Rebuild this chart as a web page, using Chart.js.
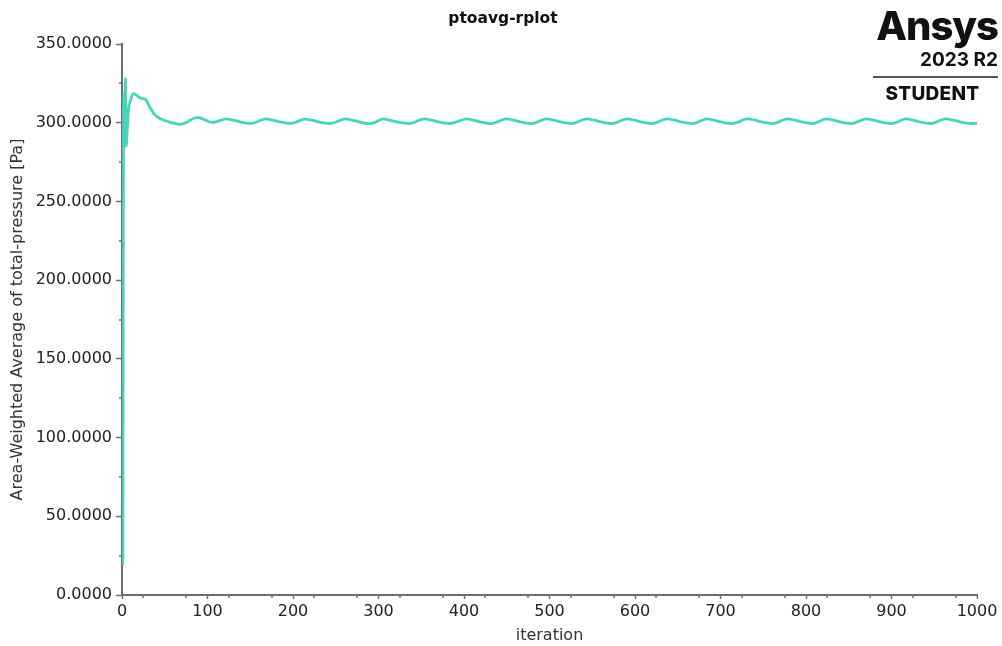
<!DOCTYPE html>
<html>
<head>
<meta charset="utf-8">
<script src="https://cdn.jsdelivr.net/npm/chart.js@4/dist/chart.umd.min.js"></script>
<style>
  body { margin: 0; background: #fff; }
  #wrap { position: relative; width: 1002px; height: 646px; }
  #logo { position: absolute; right: 4px; top: 6px; width: 125px; font-family: Inter, "Liberation Sans", sans-serif; color: #111; text-align: right; }
  #logo .brand { font-size: 40px; font-weight: 800; line-height: 40px; letter-spacing: -1px; }
  #logo .ver { font-size: 19px; font-weight: 700; line-height: 22px; margin-top: 3px; }
  #logo .rule { height: 2px; background: #555; margin: 5px 0 6px 0; }
  #logo .ed { font-size: 19px; font-weight: 800; text-align: center; line-height: 20px; letter-spacing: 0.3px; padding-right: 6px; }
</style>
</head>
<body>
<div id="wrap">
  <canvas id="plot" width="1002" height="646"></canvas>
  <div id="logo">
    <div class="brand">Ansys</div>
    <div class="ver">2023 R2</div>
    <div class="rule"></div>
    <div class="ed">STUDENT</div>
  </div>
</div>
<script>
const plotTitle = "ptoavg-rplot"
const xTitle = "iteration"
const yTitle = "Area-Weighted Average of total-pressure [Pa]"

// iteration numbers and the matching pressure values
const iterations = [
  1, 2, 3, 4, 5, 6, 7, 8, 10, 13, 17, 21, 25, 28, 31, 34, 37, 40, 44, 48, 52, 58, 64, 68, 74, 80, 85, 89, 95, 100, 105, 110, 116, 122,
  130, 138, 146, 150, 157, 163, 168,
  176, 184, 192, 198, 204, 209, 214,
  222, 230, 238, 243, 250, 256, 261,
  269, 277, 285, 290, 296, 301, 306,
  314, 322, 330, 335, 342, 348, 354,
  362, 370, 378, 383, 390, 397, 403,
  411, 419, 427, 432, 438, 444, 450,
  458, 466, 474, 479, 485, 491, 497,
  505, 513, 521, 526, 532, 538, 544,
  552, 560, 568, 573, 579, 585, 591,
  599, 607, 615, 620, 626, 632, 638,
  646, 654, 662, 667, 673, 679, 684,
  692, 700, 708, 713, 720, 726, 732,
  740, 748, 756, 761, 767, 773, 779,
  787, 795, 803, 808, 813, 819, 824,
  832, 840, 848, 853, 859, 865, 871,
  879, 887, 895, 900, 906, 912, 917,
  925, 933, 941, 946, 952, 958, 964,
  972, 980, 988, 993, 1000
]
const pressure = [
  19, 318, 302, 328, 285, 294, 304, 310, 314, 318.5, 317.5, 315.8, 315.2, 314.6, 311.5, 308.5, 306, 304.3, 302.8, 301.8, 301.1, 300, 299.3, 299, 299.8, 301.7, 303, 303.3, 302.3, 301, 300.3, 300.6, 301.6, 302.4,
  301.6, 300.6, 299.8, 299.5, 300.3, 301.7, 302.4,
  301.6, 300.6, 299.8, 299.6, 300.4, 301.6, 302.3,
  301.6, 300.6, 299.8, 299.5, 300.3, 301.7, 302.4,
  301.6, 300.6, 299.6, 299.3, 300.2, 301.6, 302.4,
  301.5, 300.6, 299.7, 299.4, 300.3, 301.7, 302.4,
  301.6, 300.6, 299.7, 299.4, 300.3, 301.6, 302.4,
  301.6, 300.5, 299.7, 299.4, 300.3, 301.7, 302.4,
  301.6, 300.6, 299.7, 299.4, 300.3, 301.7, 302.4,
  301.6, 300.6, 299.7, 299.4, 300.3, 301.7, 302.4,
  301.6, 300.6, 299.7, 299.4, 300.3, 301.7, 302.4,
  301.6, 300.6, 299.7, 299.4, 300.3, 301.7, 302.4,
  301.6, 300.6, 299.7, 299.4, 300.3, 301.7, 302.4,
  301.6, 300.6, 299.7, 299.4, 300.3, 301.7, 302.4,
  301.6, 300.6, 299.7, 299.4, 300.3, 301.7, 302.4,
  301.6, 300.6, 299.7, 299.4, 300.3, 301.7, 302.4,
  301.6, 300.6, 299.7, 299.4, 300.3, 301.7, 302.4,
  301.6, 300.6, 299.7, 299.4, 300.3, 301.7, 302.4,
  301.6, 300.6, 299.7, 299.4, 300.3, 301.7, 302.4,
  301.6, 300.6, 299.8, 299.5, 299.6
]

const axisColor = "#6e6e6e"
const tickFont = { family: "'DejaVu Sans', sans-serif", size: 16 }

// minor ticks every 25 units plus the title texts
const extras = {
  id: "extras",
  afterDraw(chart) {
    const ctx = chart.ctx
    const xs = chart.scales.x
    const ys = chart.scales.y
    ctx.save()
    ctx.strokeStyle = axisColor
    ctx.lineWidth = 1.5
    for (let v = 25; v < 1000; v += 50) {
      const px = Math.round(xs.getPixelForValue(v))
      ctx.beginPath(); ctx.moveTo(px, ys.bottom); ctx.lineTo(px, ys.bottom + 3); ctx.stroke()
    }
    for (let v = 25; v < 350; v += 50) {
      const py = Math.round(ys.getPixelForValue(v))
      ctx.beginPath(); ctx.moveTo(xs.left, py); ctx.lineTo(xs.left - 3, py); ctx.stroke()
    }
    ctx.fillStyle = "#111"
    ctx.textAlign = "center"
    ctx.textBaseline = "middle"
    ctx.font = "bold 15.5px 'DejaVu Sans', sans-serif"
    ctx.fillText(plotTitle, 503, 19)
    ctx.fillStyle = "#333"
    ctx.font = "16px 'DejaVu Sans', sans-serif"
    ctx.fillText(xTitle, (xs.left + xs.right) / 2, 636)
    ctx.translate(18, (ys.top + ys.bottom) / 2)
    ctx.rotate(-Math.PI / 2)
    ctx.fillText(yTitle, 0, 0)
    ctx.restore()
  }
}

const points = iterations.map(function(it, i) { return { x: it, y: pressure[i] } })

new Chart("plot", {
  type: "line",
  data: {
    datasets: [{
      data: points,
      borderColor: "#48d4bb",
      borderWidth: 2.8,
      pointRadius: 0,
      cubicInterpolationMode: "monotone",
      fill: false
    }]
  },
  options: {
    responsive: false,
    animation: false,
    layout: { padding: { top: 44, right: 25, left: 0, bottom: 0 } },
    plugins: { legend: { display: false }, tooltip: { enabled: false } },
    scales: {
      x: {
        type: "linear",
        min: 0, max: 1000,
        afterFit: function(s) { s.height = 51 },
        border: { color: axisColor, width: 2 },
        grid: { drawOnChartArea: false, tickLength: 4, tickColor: axisColor, tickWidth: 1.5 },
        ticks: { stepSize: 100, color: "#222", font: tickFont, padding: 3, maxRotation: 0,
          callback: function(v) { return String(v) } }
      },
      y: {
        min: 0, max: 350,
        afterFit: function(s) { s.width = 122 },
        border: { color: axisColor, width: 2 },
        grid: { drawOnChartArea: false, tickLength: 6, tickColor: axisColor, tickWidth: 1.5 },
        ticks: { stepSize: 50, color: "#222", font: tickFont, padding: 4,
          callback: function(v) { return v.toFixed(4) } }
      }
    }
  },
  plugins: [extras]
})
</script>
</body>
</html>
